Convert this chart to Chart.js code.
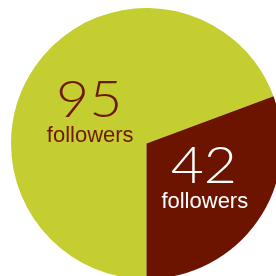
<!DOCTYPE html>
<html>
<head>
<meta charset="utf-8">
<script src="https://cdn.jsdelivr.net/npm/chart.js@4.4.1/dist/chart.umd.min.js"></script>
<style>
    html, body { margin: 0; padding: 0; background: #fff; overflow: hidden; }
    body { width: 276px; height: 276px; position: relative; }
    #wrap { position: absolute; left: 11px; top: 8px; width: 271px; height: 271px; }
</style>
</head>
<body>
<div id="wrap"><canvas id="pieChart" width="271" height="271"></canvas></div>
<script>
var categories = ['A', 'B'];
var followers = [95, 42];
var sliceColors = ['#c4ce31', '#6c1400'];
var labelColors = ['#6c1a04', '#ffffff'];
var unitLabel = 'followers';

// Draw the number + "followers" label near each slice's centroid.
var sliceLabels = {
    id: 'sliceLabels',
    afterDatasetsDraw: function(chart) {
        var ctx = chart.ctx;
        var meta = chart.getDatasetMeta(0);
        meta.data.forEach(function(arc, i) {
            var pos = arc.tooltipPosition();
            // flatten the label offset a little, the way the original sits
            var lx = arc.x + (pos.x - arc.x) * 1.03;
            var ly = arc.y + (pos.y - arc.y) * 0.86;
            ctx.save();
            ctx.fillStyle = labelColors[i];
            ctx.textAlign = 'center';
            ctx.textBaseline = 'alphabetic';

            ctx.save();
            ctx.translate(lx, ly + 6.5);
            ctx.scale(1.12, 1);
            ctx.font = '300 51px "Lato", "DejaVu Sans", sans-serif';
            ctx.fillText(String(followers[i]), 0, 0);
            ctx.restore();

            ctx.font = '22px "Liberation Sans", Arial, sans-serif';
            ctx.fillText(unitLabel, lx + 1, ly + 31.5);
            ctx.restore();
        });
    }
};

var ctxPie = document.getElementById('pieChart').getContext('2d');
var pieChart = new Chart(ctxPie, {
    type: 'pie',
    data: {
        labels: categories,
        datasets: [{
            data: followers,
            backgroundColor: sliceColors,
            borderWidth: 0
        }]
    },
    options: {
        responsive: false,
        animation: false,
        rotation: 180,
        layout: { padding: 0 },
        plugins: {
            legend: { display: false },
            tooltip: { enabled: false }
        }
    },
    plugins: [sliceLabels]
});
</script>
</body>
</html>
